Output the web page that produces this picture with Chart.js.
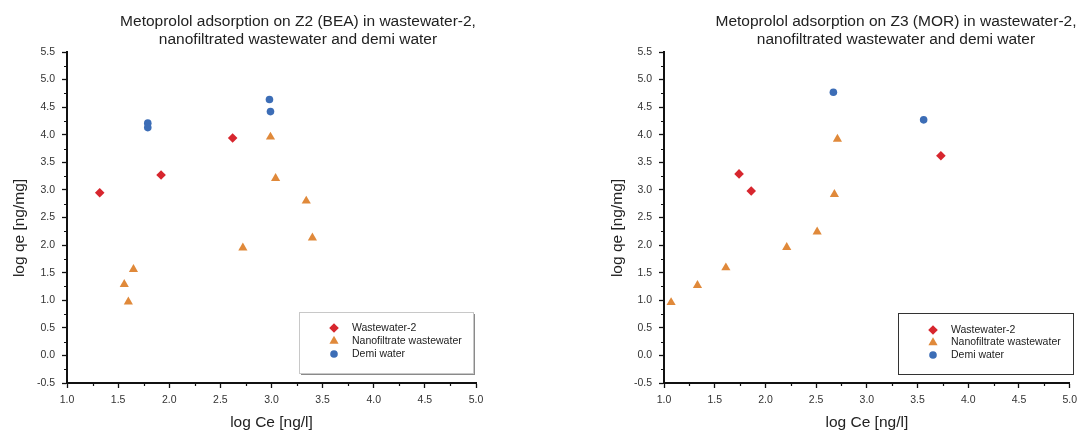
<!DOCTYPE html>
<html>
<head>
<meta charset="utf-8">
<script src="https://cdn.jsdelivr.net/npm/chart.js@4/dist/chart.umd.min.js"></script>
<style>
html,body{margin:0;padding:0;background:#fff;overflow:hidden;}
#wrap{position:relative;width:1083px;height:432px;}
.box{position:absolute;top:0;height:432px;}
canvas{display:block;}
</style>
</head>
<body>
<div id="wrap">
  <div class="box" style="left:0;width:541px"><canvas id="c1" width="541" height="432"></canvas></div>
  <div class="box" style="left:541px;width:542px"><canvas id="c2" width="542" height="432"></canvas></div>
</div>
<script>
// ---- data ----
const seriesNames = ['Wastewater-2', 'Nanofiltrate wastewater', 'Demi water'];
const xTickValues = [1.0, 1.5, 2.0, 2.5, 3.0, 3.5, 4.0, 4.5, 5.0];
const xTickLabels = ['1.0', '1.5', '2.0', '2.5', '3.0', '3.5', '4.0', '4.5', '5.0'];
const yTickValues = [-0.5, 0.0, 0.5, 1.0, 1.5, 2.0, 2.5, 3.0, 3.5, 4.0, 4.5, 5.0, 5.5];
const yTickLabels = ['-0.5', '0.0', '0.5', '1.0', '1.5', '2.0', '2.5', '3.0', '3.5', '4.0', '4.5', '5.0', '5.5'];

const titleBEA = ['Metoprolol adsorption on Z2 (BEA) in wastewater-2,', 'nanofiltrated wastewater and demi water'];
const titleMOR = ['Metoprolol adsorption on Z3 (MOR) in wastewater-2,', 'nanofiltrated wastewater and demi water'];
const xAxisTitle = 'log Ce [ng/l]';
const yAxisTitle = 'log qe [ng/mg]';

// Z2 (BEA)
const beaWasteX = [1.32, 1.92, 2.62];
const beaWasteY = [2.95, 3.27, 3.94];
const beaNanoX = [2.99, 3.04, 3.34, 3.40, 2.72, 1.65, 1.56, 1.60];
const beaNanoY = [3.96, 3.21, 2.80, 2.13, 1.95, 1.56, 1.29, 0.97];
const beaDemiX = [1.79, 1.79, 2.98, 2.99];
const beaDemiY = [4.21, 4.13, 4.64, 4.42];

// Z3 (MOR)
const morWasteX = [1.74, 1.86, 3.73];
const morWasteY = [3.29, 2.98, 3.62];
const morNanoX = [1.07, 1.33, 1.61, 2.21, 2.51, 2.68, 2.71];
const morNanoY = [0.96, 1.27, 1.59, 1.96, 2.24, 2.92, 3.92];
const morDemiX = [2.67, 3.56];
const morDemiY = [4.77, 4.27];

// ---- styling ----
const FAMILY = '"Liberation Sans", Arial, Helvetica, sans-serif';
const COLORS = ['#d7262e', '#e0893a', '#3c6db6'];
const STYLES = ['rectRot', 'triangle', 'circle'];
const RADII = [4.8, 5.3, 3.8];

function pts(xs, ys) { return xs.map((x, i) => ({x: x, y: ys[i]})); }

function buildDatasets(sets) {
  return sets.map((s, i) => ({
    label: seriesNames[i],
    data: pts(s[0], s[1]),
    pointStyle: STYLES[i],
    pointRadius: RADII[i],
    pointBackgroundColor: COLORS[i],
    pointBorderColor: COLORS[i],
    pointBorderWidth: 0,
    showLine: false
  }));
}

const decor = {
  id: 'decor',
  afterDraw(chart, args, o) {
    const ctx = chart.ctx;
    const xs = chart.scales.x, ys = chart.scales.y;
    ctx.save();
    // minor ticks
    ctx.strokeStyle = '#111';
    ctx.lineWidth = 1.2;
    ctx.beginPath();
    for (let v = xs.min + 0.25; v < xs.max; v += 0.5) {
      const p = Math.round(xs.getPixelForValue(v)) + 0.5;
      ctx.moveTo(p, xs.top); ctx.lineTo(p, xs.top + 3);
    }
    for (let v = ys.min + 0.25; v < ys.max; v += 0.5) {
      const p = Math.round(ys.getPixelForValue(v)) + 0.5;
      ctx.moveTo(ys.right, p); ctx.lineTo(ys.right - 3, p);
    }
    ctx.stroke();

    // chart title
    ctx.fillStyle = '#222';
    ctx.font = '15.5px ' + FAMILY;
    ctx.textAlign = 'center';
    ctx.textBaseline = 'middle';
    o.title.forEach((t, i) => ctx.fillText(t, o.titleX, o.titleY + i * o.titleGap));

    // y axis title
    ctx.save();
    ctx.translate(o.yTitleX, o.yTitleY);
    ctx.rotate(-Math.PI / 2);
    ctx.fillText(yAxisTitle, 0, 0);
    ctx.restore();

    // legend box
    const L = o.legend;
    if (L.shadow) {
      ctx.fillStyle = '#8a8a8a';
      ctx.fillRect(L.x + 2, L.y + 2, L.w, L.h);
      ctx.fillStyle = '#fff';
      ctx.fillRect(L.x, L.y, L.w, L.h);
      ctx.strokeStyle = '#c8c8c8';
      ctx.lineWidth = 1;
      ctx.strokeRect(L.x + 0.5, L.y + 0.5, L.w, L.h);
    } else {
      ctx.fillStyle = '#fff';
      ctx.fillRect(L.x, L.y, L.w, L.h);
      ctx.strokeStyle = '#333';
      ctx.lineWidth = 1;
      ctx.strokeRect(L.x + 0.5, L.y + 0.5, L.w, L.h);
    }
    ctx.font = '10.5px ' + FAMILY;
    ctx.textAlign = 'left';
    ctx.textBaseline = 'middle';
    chart.data.datasets.forEach((ds, i) => {
      const y = L.rowY + i * L.rowGap;
      ctx.fillStyle = COLORS[i];
      ctx.strokeStyle = COLORS[i];
      if (Chart.helpers && Chart.helpers.drawPoint) {
        Chart.helpers.drawPoint(ctx, {pointStyle: ds.pointStyle, radius: ds.pointRadius, rotation: 0, borderWidth: 0}, L.markerX, y);
      } else {
        ctx.beginPath(); ctx.arc(L.markerX, y, 4, 0, Math.PI * 2); ctx.fill();
      }
      ctx.fillStyle = '#222';
      ctx.fillText(ds.label, L.textX, y);
    });
    ctx.restore();
  }
};

function makeChart(id, sets, deco, pad) {
  const tickFont = {family: FAMILY, size: 10.5};
  return new Chart(document.getElementById(id), {
    type: 'scatter',
    data: {datasets: buildDatasets(sets)},
    options: {
      responsive: false,
      animation: false,
      devicePixelRatio: 1,
      layout: {padding: pad},
      plugins: {
        legend: {display: false},
        title: {display: false},
        tooltip: {enabled: false},
        decor: deco
      },
      scales: {
        x: {
          type: 'linear', min: 1, max: 5,
          afterBuildTicks: s => { s.ticks = xTickValues.map(v => ({value: v})); },
          afterFit: s => { s.height = 49; },
          ticks: {callback: (v, i) => xTickLabels[i], font: tickFont, color: '#333', padding: 6, maxRotation: 0, autoSkip: false},
          grid: {display: true, drawOnChartArea: false, drawTicks: true, tickLength: 5, tickWidth: 1.3, tickColor: '#111'},
          border: {display: true, color: '#111', width: 2},
          title: {display: true, text: xAxisTitle, color: '#222', font: {family: FAMILY, size: 15.5}, padding: {top: 0, bottom: 0}}
        },
        y: {
          type: 'linear', min: -0.5, max: 5.5,
          afterBuildTicks: s => { s.ticks = yTickValues.map(v => ({value: v})); },
          afterFit: s => { s.width = 67; },
          ticks: {callback: (v, i) => yTickLabels[i], font: tickFont, color: '#333', padding: 7, autoSkip: false},
          grid: {display: true, drawOnChartArea: false, drawTicks: true, tickLength: 5, tickWidth: 1.3, tickColor: '#111'},
          border: {display: true, color: '#111', width: 2},
          title: {display: false}
        }
      }
    },
    plugins: [decor]
  });
}

makeChart('c1',
  [[beaWasteX, beaWasteY], [beaNanoX, beaNanoY], [beaDemiX, beaDemiY]],
  {title: titleBEA, titleX: 298, titleY: 22, titleGap: 18, yTitleX: 20, yTitleY: 228,
   legend: {x: 299, y: 312, w: 174, h: 61, shadow: true, markerX: 334, textX: 352, rowY: 328, rowGap: 13}},
  {left: 0, right: 65, top: 52, bottom: 0});

makeChart('c2',
  [[morWasteX, morWasteY], [morNanoX, morNanoY], [morDemiX, morDemiY]],
  {title: titleMOR, titleX: 355, titleY: 22, titleGap: 18, yTitleX: 77, yTitleY: 228,
   legend: {x: 357, y: 313, w: 175, h: 61, shadow: false, markerX: 392, textX: 410, rowY: 330, rowGap: 12.5}},
  {left: 56, right: 10, top: 52, bottom: 0});
</script>
</body>
</html>
